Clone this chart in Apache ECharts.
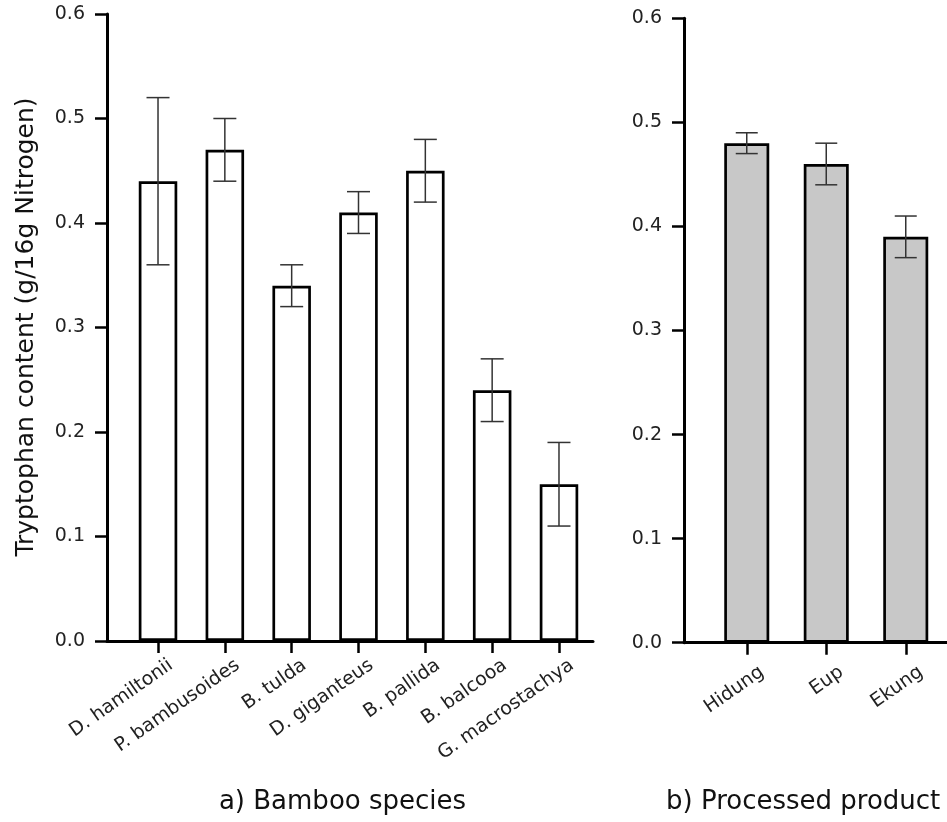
<!DOCTYPE html>
<html><head><meta charset="utf-8">
<script src="https://cdn.jsdelivr.net/npm/echarts@6/dist/echarts.min.js"></script>
<style>html,body{margin:0;padding:0;background:#fff}#c{width:947px;height:822px}</style>
</head><body><div id="c"></div>
<script>
// ---- data ----
const speciesNames = ['D. hamiltonii','P. bambusoides','B. tulda','D. giganteus','B. pallida','B. balcooa','G. macrostachya'];
const speciesMeans = [0.44, 0.47, 0.34, 0.41, 0.45, 0.24, 0.15];
const speciesErrors = [0.08, 0.03, 0.02, 0.02, 0.03, 0.03, 0.04];
const productNames = ['Hidung','Eup','Ekung'];
const productMeans = [0.48, 0.46, 0.39];
const productErrors = [0.01, 0.02, 0.02];
const yMin = 0, yMax = 0.6, yStep = 0.1;
const yTitle = 'Tryptophan content (g/16g Nitrogen)';
const leftTitle = 'a) Bamboo species';
const rightTitle = 'b) Processed product';

// ---- chart ----
const FONT = '"DejaVu Sans", sans-serif';
const chart = echarts.init(document.getElementById('c'), null, {renderer: 'canvas'});

function valueYAxis(gridIndex, show) {
  return {
    type: 'value', gridIndex, min: yMin, max: yMax, interval: yStep, show,
    axisLine: {show: true, lineStyle: {color: '#000', width: 3}},
    axisTick: {show: true, inside: false, length: 12, lineStyle: {color: '#000', width: 2.5}},
    axisLabel: {show: true, margin: 22, fontSize: 19, fontFamily: FONT, color: '#222',
      formatter: v => v.toFixed(1)},
    splitLine: {show: false}
  };
}
function lineXAxis(gridIndex) {
  return {
    type: 'value', gridIndex, min: 0, max: 1, position: 'bottom',
    axisLine: {show: true, onZero: false, lineStyle: {color: '#000', width: 3}},
    axisTick: {show: false}, axisLabel: {show: false}, splitLine: {show: false}
  };
}
function catXAxis(gridIndex, names, rot, margin, pad) {
  return {
    type: 'category', gridIndex, data: names, position: 'bottom',
    axisLine: {show: false, onZero: false},
    axisTick: {show: true, alignWithLabel: true, interval: 0, length: 12, lineStyle: {color: '#000', width: 2.5}},
    axisLabel: {show: true, interval: 0, rotate: rot, margin: margin, fontSize: 19, fontFamily: FONT,
      color: '#222', verticalAlign: 'top', padding: [pad, 0, 0, 0]},
    splitLine: {show: false}
  };
}
function errSeries(xAxisIndex, yAxisIndex, means, errs, capW) {
  return {
    type: 'custom', xAxisIndex, yAxisIndex, z: 5,
    data: means.map((m, i) => [i, m - errs[i], m + errs[i]]),
    encode: {x: 0, y: [1, 2]},
    renderItem: (params, api) => {
      const i = api.value(0);
      const lo = api.coord([i, api.value(1)]);
      const hi = api.coord([i, api.value(2)]);
      const st = {stroke: '#333', lineWidth: 1.5};
      const h = capW / 2;
      return {type: 'group', children: [
        {type: 'line', shape: {x1: hi[0], y1: hi[1], x2: lo[0], y2: lo[1]}, style: st},
        {type: 'line', shape: {x1: hi[0] - h, y1: hi[1], x2: hi[0] + h, y2: hi[1]}, style: st},
        {type: 'line', shape: {x1: lo[0] - h, y1: lo[1], x2: lo[0] + h, y2: lo[1]}, style: st}
      ]};
    }
  };
}

const option = {
  backgroundColor: '#fff',
  animation: false,
  grid: [
    {left: 107, right: 354, top: 14, bottom: 181},      // left axes
    {left: 124.6, right: 354.6, top: 14, bottom: 181},  // left bars
    {left: 684, right: 0, top: 18.3, bottom: 179.3},    // right axes
    {left: 707, right: 1.5, top: 18.3, bottom: 179.3}   // right bars
  ],
  xAxis: [
    lineXAxis(0),
    catXAxis(1, speciesNames, 35, 4, 13),
    lineXAxis(2),
    catXAxis(3, productNames, 35, 6, 17)
  ],
  yAxis: [
    valueYAxis(0, true),
    valueYAxis(1, false),
    valueYAxis(2, true),
    valueYAxis(3, false)
  ],
  series: [
    {type: 'bar', xAxisIndex: 1, yAxisIndex: 1, data: speciesMeans, barWidth: 38.5,
      itemStyle: {color: '#fff', borderColor: '#000', borderWidth: 2.7}},
    errSeries(1, 1, speciesMeans, speciesErrors, 23),
    {type: 'bar', xAxisIndex: 3, yAxisIndex: 3, data: productMeans, barWidth: 45,
      itemStyle: {color: '#c8c8c8', borderColor: '#000', borderWidth: 2.7}},
    errSeries(3, 3, productMeans, productErrors, 22)
  ],
  graphic: [
    {type: 'text', x: 26, y: 327, rotation: Math.PI / 2,
      style: {text: yTitle, font: '25px ' + FONT, fill: '#111', align: 'center', verticalAlign: 'middle',
        textAlign: 'center', textVerticalAlign: 'middle'}},
    {type: 'text', x: 342.5, y: 802,
      style: {text: leftTitle, font: '26px ' + FONT, fill: '#111', align: 'center', verticalAlign: 'middle',
        textAlign: 'center', textVerticalAlign: 'middle'}},
    {type: 'text', x: 666, y: 802,
      style: {text: rightTitle, font: '26px ' + FONT, fill: '#111', align: 'left', verticalAlign: 'middle',
        textAlign: 'left', textVerticalAlign: 'middle'}}
  ]
};
chart.setOption(option);
</script>
</body></html>
